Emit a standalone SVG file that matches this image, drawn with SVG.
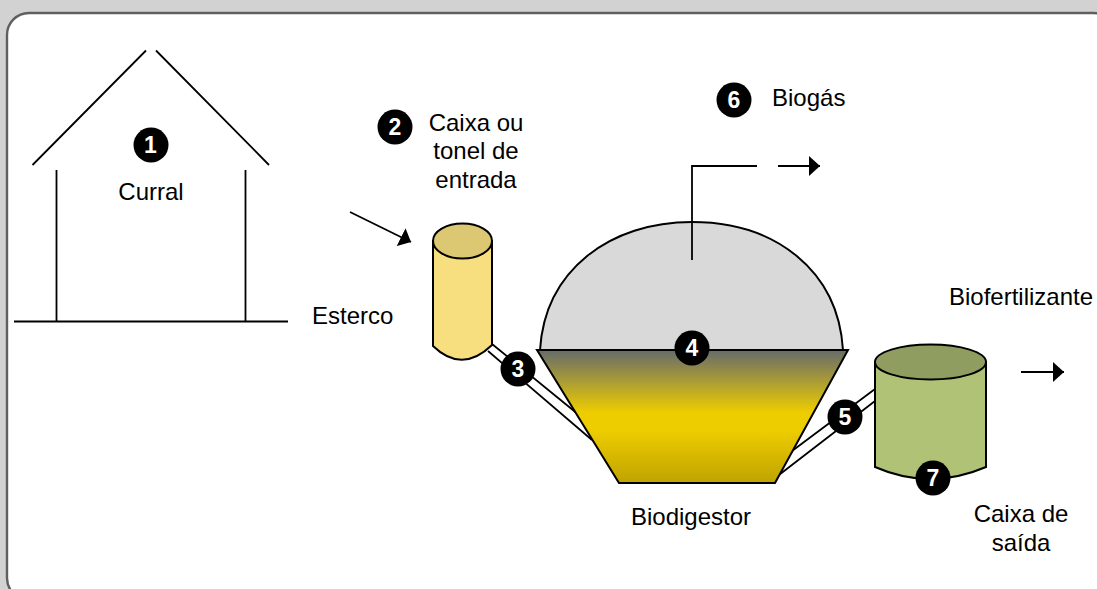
<svg xmlns="http://www.w3.org/2000/svg" width="1097" height="589" viewBox="0 0 1097 589">
<style>
text{font-family:"Liberation Sans",Arial,sans-serif;font-size:24px;fill:#000}
.l{fill:none;stroke:#000;stroke-width:1.800}
.s{stroke:#000;stroke-width:2}
.b circle{fill:#000}
.b text{fill:#fff;font-weight:bold;font-size:23px;text-anchor:middle}
.c{text-anchor:middle}
</style>
<defs>
<linearGradient id="g" x1="0" y1="0" x2="0" y2="1">
<stop offset="0" stop-color="#666b6b"/><stop offset="0.47" stop-color="#eecd00"/><stop offset="0.6" stop-color="#eecd00"/><stop offset="1" stop-color="#bfa300"/>
</linearGradient>
<marker id="a" markerUnits="userSpaceOnUse" markerWidth="12" markerHeight="20" refX="11" refY="10" orient="auto"><path d="M0 0L11 10L0 20Z" fill="#000"/></marker>
</defs>
<rect width="1097" height="589" fill="#d2d2d2"/>
<rect x="7" y="13" width="1108" height="587" rx="22" fill="#fff" stroke="#5f5f5f" stroke-width="2.400"/>
<g id="curral">
<path class="l" d="M146 50.500L32.500 165M156 50.500L269 165M56.500 170V321M245.500 170V321M14 321.500H288"/>
<text x="151" y="200" class="c">Curral</text>
</g>
<g id="esterco"><text x="312" y="324">Esterco</text></g>
<g id="tubo3"><path class="l" d="M492 344L579 415M488 351L592 440"/></g>
<g id="tubo5"><path class="l" d="M875 389L792 451M875 401L775 478"/></g>
<g id="biodigestor">
<path class="s" fill="#d9d9d9" d="M540 350C545 270 610 222 692 222C775 222 838 270 843 350Z"/>
<path class="s" fill="url(#g)" d="M537 350H848L775 483H619Z"/>
<text x="691" y="525" class="c">Biodigestor</text>
</g>
<g id="caixa-entrada">
<path class="s" fill="#f7df7f" d="M433 241V346Q462 374 492 345V241Z"/>
<ellipse class="s" cx="462.500" cy="241" rx="29.500" ry="17.500" fill="#dcc873"/>
<text x="476" y="131" class="c">Caixa ou</text><text x="476" y="159" class="c">tonel de</text><text x="476" y="188" class="c">entrada</text>
</g>
<g id="caixa-saida">
<path class="s" fill="#b0c276" d="M875 362V467Q930 491 986 467V362Z"/>
<ellipse class="s" cx="930.500" cy="362" rx="55.500" ry="17.500" fill="#8f9d60"/>
<text x="1021" y="522" class="c">Caixa de</text><text x="1021" y="551" class="c">saída</text>
</g>
<g id="connectors">
<path class="l" d="M350 212L411 242" marker-end="url(#a)"/>
<path class="l" d="M692 260V166H757"/>
<path class="l" d="M778 166H820" marker-end="url(#a)"/>
<path class="l" d="M1021 372H1064" marker-end="url(#a)"/>
</g>
<g id="labels">
<text x="772" y="106">Biogás</text>
<text x="949" y="305">Biofertilizante</text>
</g>
<g class="b" id="n1"><circle cx="151" cy="145" r="17.500"/><text x="150.500" y="153">1</text></g>
<g class="b" id="n2"><circle cx="395" cy="127" r="17.500"/><text x="395" y="135">2</text></g>
<g class="b" id="n3"><circle cx="518" cy="369" r="17.500"/><text x="518" y="377">3</text></g>
<g class="b" id="n4"><circle cx="692" cy="348" r="17.500"/><text x="692" y="356">4</text></g>
<g class="b" id="n5"><circle cx="845" cy="417" r="17.500"/><text x="845" y="425">5</text></g>
<g class="b" id="n6"><circle cx="734" cy="100" r="17.500"/><text x="734" y="108">6</text></g>
<g class="b" id="n7"><circle cx="933" cy="478" r="17.500"/><text x="933" y="486">7</text></g>
</svg>
